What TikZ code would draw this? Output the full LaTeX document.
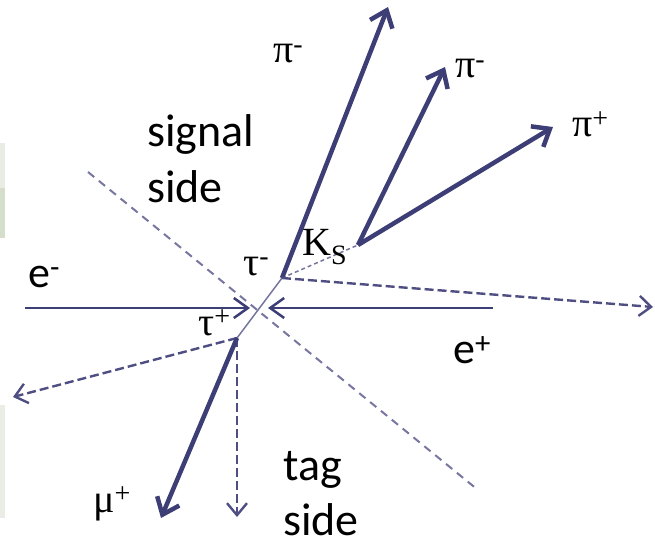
\documentclass[tikz,border=0pt]{standalone}
\usepackage{fontspec}
\setmainfont{Liberation Serif}
\newfontfamily\calib{Carlito}
\usetikzlibrary{arrows.meta}
\definecolor{trk}{RGB}{62,62,118}
\definecolor{dsh}{RGB}{78,78,130}
\definecolor{sepc}{RGB}{118,118,160}
\definecolor{panelA}{RGB}{232,236,226}
\definecolor{panelB}{RGB}{212,222,203}
\definecolor{panelC}{RGB}{234,237,230}
\begin{document}
\begin{tikzpicture}[x=1pt,y=-1pt,
  thick track/.style={draw=trk,line width=4.5pt,-{Straight Barb[length=15pt,width=24pt]}},
  beam/.style={draw=trk,line width=2.2pt,-{Straight Barb[length=14pt,width=20pt,line width=2.5pt]}},
  miss/.style={draw=dsh,line width=2.4pt,dash pattern=on 9pt off 4pt,-{Straight Barb[length=12pt,width=20pt,line width=2.4pt]}},
  sepline/.style={draw=sepc,line width=2pt,dash pattern=on 8pt off 6pt},
  taupath/.style={draw=sepc,line width=1.5pt},
  ksline/.style={draw=sepc,line width=1.5pt,dash pattern=on 4pt off 3pt},
  serlab/.style={anchor=base west,inner sep=0pt,font=\fontsize{40}{48}\selectfont},
  sanlab/.style={anchor=base west,inner sep=0pt,font=\calib\fontsize{44}{52}\selectfont},
  sidelab/.style={anchor=base west,inner sep=0pt,text depth=0pt,align=left,font=\calib\fontsize{46}{55}\selectfont}]
\useasboundingbox (0,0) rectangle (655,540);
% slide panels at left edge
\fill[panelA] (0,143) rectangle (5,188);
\fill[panelB] (0,188) rectangle (5,238);
\fill[panelC] (0,405) rectangle (5,518);
% key points
\coordinate (tm) at (282,278);
\coordinate (tp) at (237,338);
\coordinate (ks) at (358,245);
\coordinate (eL) at (25,308);
\coordinate (eLtip) at (250,308);
\coordinate (eR) at (493,308);
\coordinate (eRtip) at (268,308);
\coordinate (s1) at (88,172);
\coordinate (s2) at (478,490);
\coordinate (pia) at (388,7);
\coordinate (pib) at (445,67);
\coordinate (pic) at (553,127);
\coordinate (ma) at (653,307);
\coordinate (mb) at (13,397);
\coordinate (mu) at (161,518);
\coordinate (mc) at (237,517);
% separator
\draw[sepline] (s1) -- (s2);
% beams
\draw[beam] (eL) -- (eLtip);
\draw[beam] (eR) -- (eRtip);
% tau pair
\draw[taupath] (tp) -- (tm);
% signal side
\draw[ksline] (tm) -- (ks);
\draw[thick track] (tm) -- (pia);
\draw[thick track] (ks) -- (pib);
\draw[thick track] (ks) -- (pic);
\draw[miss] (tm) -- (ma);
% tag side
\draw[miss] (tp) -- (mb);
\draw[miss] (tp) -- (mc);
\draw[thick track] (tp) -- (mu);
% labels
\node[serlab] (lpia) at (273,63) {π\textsuperscript{-}};
\node[serlab] (lpib) at (455,78) {π\textsuperscript{-}};
\node[serlab] (lpic) at (572,137) {π\textsuperscript{+}};
\node[serlab] (lks) at (302,255) {K\textsubscript{S}};
\node[serlab] (ltm) at (243,275) {τ\textsuperscript{-}};
\node[serlab] (ltp) at (198,335) {τ\textsuperscript{+}};
\node[serlab] (lmu) at (93,512) {μ\textsuperscript{+}};
\node[sanlab] (lem) at (28,287) {e\textsuperscript{-}};
\node[sanlab] (lep) at (453,363) {e\textsuperscript{+}};
\node[sidelab] (lsig) at (147,202) {signal\\side};
\node[sidelab] (ltag) at (283,535) {tag\\side};
\end{tikzpicture}
\end{document}
